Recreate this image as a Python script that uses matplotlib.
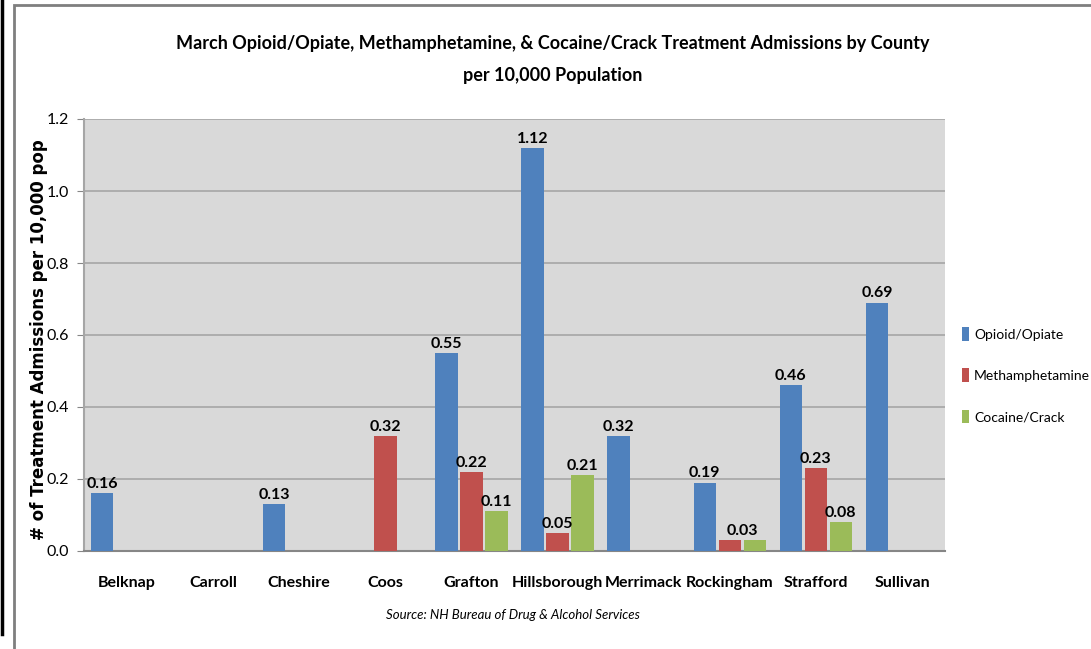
import numpy as np
import matplotlib
matplotlib.use("Agg")
import matplotlib.pyplot as plt
from matplotlib.patches import Rectangle
from matplotlib.lines import Line2D

counties = ["Belknap", "Carroll", "Cheshire", "Coos", "Grafton", "Hillsborough",
            "Merrimack", "Rockingham", "Strafford", "Sullivan"]
opioid = [0.16, 0.0, 0.13, 0.0, 0.55, 1.12, 0.32, 0.19, 0.46, 0.69]
meth = [0.0, 0.0, 0.0, 0.32, 0.22, 0.05, 0.0, 0.03, 0.23, 0.0]
cocaine = [0.0, 0.0, 0.0, 0.0, 0.11, 0.21, 0.0, 0.03, 0.08, 0.0]
series_names = ["Opioid/Opiate", "Methamphetamine", "Cocaine/Crack"]
colors = ["#4F81BD", "#C0504D", "#9BBB59"]

narrow = ["Lato", "DejaVu Sans"]

fig = plt.figure(figsize=(10.91, 6.49), dpi=100)
# outer chart frame
fig.patches.append(Rectangle((14 / 1091, -0.1), 1.2, 1 - 5 / 649 + 0.1,
                             transform=fig.transFigure, fill=False,
                             edgecolor="#7f7f7f", lw=2))
fig.lines.append(Line2D([1.5 / 1091, 1.5 / 1091], [1, 1 - 634 / 649],
                        transform=fig.transFigure, color="black", lw=2.5))

ax = fig.add_axes([84 / 1091, 1 - 551 / 649, 861 / 1091, 432 / 649])
ax.set_facecolor("#D9D9D9")

x = np.arange(len(counties))
w = 0.26
step = 0.29
all_series = [opioid, meth, cocaine]
for i, vals in enumerate(all_series):
    ax.bar(x + (i - 1) * step, vals, width=w, color=colors[i], label=series_names[i],
           zorder=3)

# value labels
def label(xx, v):
    ax.text(xx, v + 0.006, f"{v:.2f}", ha="center", va="bottom",
            family=narrow, fontweight="bold", fontsize=11.5, zorder=4)

for j in range(len(counties)):
    m, c = meth[j], cocaine[j]
    if opioid[j] > 0:
        label(x[j] - step, opioid[j])
    if m > 0 and c > 0 and m == c:
        label(x[j] + step / 2, m)
        continue
    if m > 0:
        label(x[j], m)
    if c > 0:
        label(x[j] + step, c)

ax.set_xlim(-0.5, len(counties) - 0.5)
ax.set_ylim(0, 1.2)
ax.set_yticks(np.arange(0, 1.21, 0.2))
ax.set_yticklabels([f"{v:.1f}" for v in np.arange(0, 1.21, 0.2)], family=narrow, fontsize=11.5)
ax.yaxis.grid(True, color="#A6A6A6", lw=1.2, zorder=0)
ax.set_xticks(x)
ax.set_xticklabels(counties, family=narrow, fontweight="bold", fontsize=11.5)
ax.tick_params(axis="x", length=0, pad=18)
ax.tick_params(axis="y", length=5, color="#868686", pad=6)
for s in ["top", "right"]:
    ax.spines[s].set_visible(False)
ax.spines["left"].set_color("#A6A6A6")
ax.spines["left"].set_linewidth(1.5)
ax.spines["bottom"].set_color("#868686")
ax.spines["bottom"].set_linewidth(1.5)

ax.set_ylabel("# of Treatment Admissions per 10,000 pop", fontweight="bold",
              fontsize=12, family="DejaVu Sans")
ax.yaxis.set_label_coords(-0.042, 0.49)

fig.text(553 / 1091, 1 - 43 / 649,
         "March Opioid/Opiate, Methamphetamine, & Cocaine/Crack Treatment Admissions by County",
         ha="center", va="center", family=narrow, fontweight="bold", fontsize=13)
fig.text(553 / 1091, 1 - 75 / 649, "per 10,000 Population",
         ha="center", va="center", family=narrow, fontweight="bold", fontsize=13)
fig.text(513 / 1091, 1 - 615 / 649, "Source: NH Bureau of Drug & Alcohol Services",
         ha="center", va="center", family=narrow, style="italic", fontsize=9.5)

leg = ax.legend(loc="center left", bbox_to_anchor=(1.0, 0.407), frameon=False,
                prop={"family": narrow, "size": 10}, handlelength=0.55, handleheight=1.1,
                handletextpad=0.35, labelspacing=2.0, borderaxespad=0.8)

fig.savefig("out.png", dpi=100)
